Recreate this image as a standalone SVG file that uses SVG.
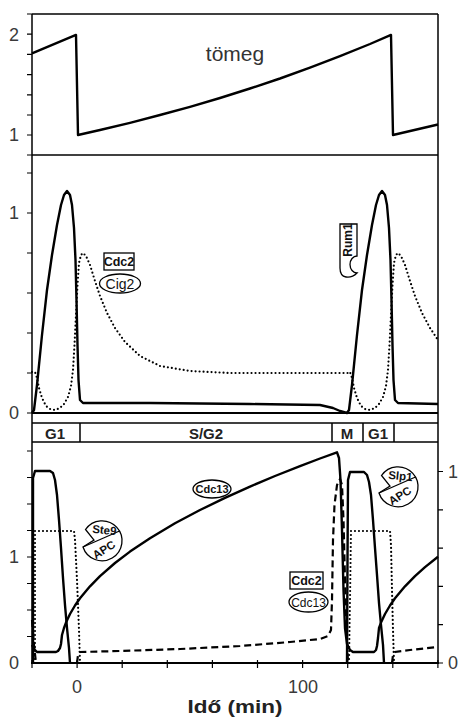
<svg xmlns="http://www.w3.org/2000/svg" width="463" height="720" viewBox="0 0 463 720">
<style>
.frame{fill:none;stroke:#000;stroke-width:1.5}
.axis{fill:none;stroke:#000;stroke-width:2.2}
.tick{stroke:#000;stroke-width:1.2}
.solid{fill:none;stroke:#000;stroke-width:2.4;stroke-linejoin:round}
.dot{fill:none;stroke:#000;stroke-width:2.2;stroke-dasharray:0 4;stroke-linecap:round}
.dash{fill:none;stroke:#000;stroke-width:2.2;stroke-dasharray:7 4}
.num{font-family:"Liberation Sans",Arial,sans-serif;font-size:18px;fill:#3a3a3a;text-anchor:middle}
.phase{font-family:"Liberation Sans",Arial,sans-serif;font-size:15px;font-weight:bold;fill:#222;text-anchor:middle}
.lbl{font-family:"Liberation Sans",Arial,sans-serif;font-weight:bold;fill:#111;text-anchor:middle}
.shape{fill:#fff;stroke:#000;stroke-width:1.3}
</style>

<g id="frame">
<line class="frame" x1="32" y1="14" x2="438" y2="14"/>
<line class="frame" x1="32" y1="14" x2="32" y2="663"/>
<line class="frame" x1="438" y1="14" x2="438" y2="663"/>
<line class="frame" x1="32" y1="155" x2="438" y2="155"/>
<line class="axis" x1="32" y1="413" x2="438" y2="413"/>
<line class="frame" x1="32" y1="423" x2="438" y2="423"/>
<line class="frame" x1="32" y1="442" x2="438" y2="442"/>
<line class="axis" x1="31" y1="663" x2="439" y2="663"/>
</g>

<g id="ticks">
<path class="tick" d="M27,14H32M27,34.2H32M27,54.4H32M27,74.6H32M27,94.8H32M27,115H32M27,135H32M27,155H32
M27,173H32M27,213H32M27,253H32M27,293H32M27,333H32M27,373H32M27,413H32
M27,451H32M27,477.5H32M27,504H32M27,530.5H32M27,557H32M27,583.5H32M27,610H32M27,636.5H32
M438,471.5H443M438,509.8H443M438,548.1H443M438,586.4H443M438,624.7H443M438,663H443
M32,660V668M77.1,660V668M122.2,660V668M167.3,660V668M212.4,660V668M257.5,660V668M302.6,660V668M347.7,660V668M392.8,660V668M437.9,660V668"/>
</g>

<g id="tick-labels">
<text class="num" x="14" y="41">2</text>
<text class="num" x="14" y="141">1</text>
<text class="num" x="14" y="219">1</text>
<text class="num" x="14" y="419">0</text>
<text class="num" x="14" y="563">1</text>
<text class="num" x="14" y="669">0</text>
<text class="num" x="453" y="478">1</text>
<text class="num" x="453" y="669">0</text>
<text class="num" x="77" y="693">0</text>
<text class="num" x="303" y="693">100</text>
<text x="235" y="713" font-family="Liberation Sans, Arial, sans-serif" font-size="18" font-weight="bold" fill="#222" text-anchor="middle" textLength="95" lengthAdjust="spacingAndGlyphs">Idő (min)</text>
</g>

<g id="phase-bar">
<path class="frame" d="M80,423V442M332,423V442M363,423V442M394,423V442"/>
<text class="phase" x="55" y="439">G1</text>
<text class="phase" x="206" y="439">S/G2</text>
<text class="phase" x="347" y="439">M</text>
<text class="phase" x="378" y="439">G1</text>
</g>

<g id="connectors">
<polyline class="solid" points="32,53.4 76,34.9 78,135 100,130 130,122.8 160,115 190,106.8 220,98 250,88.5 280,78.5 310,67.7 340,56.2 370,44 391,34.9 393,135 438,124.5"/>

<polyline class="solid" points="32,413 34,410 37,385 42,335 47,290 52,255 57,225 61,205 64,195 67,191 70,195 72,205 74,228 75.5,260 76.5,300 77.5,345 78.5,380 80,400 83,403 150,403 250,404 320,405 333,408 340,411 347,413 349,410 352,385 357,335 362,290 367,255 372,225 376,205 379,195 382,191 385,195 387,205 389,228 390.5,260 391.5,300 392.5,345 393.5,380 395,400 398,403 438,404"/>
<polyline class="dot" points="32,372 35,372 37,378 39,388 42,398 46,406 50,409 55,410 60,408 64,404 68,397 71,386 73,370 74.5,345 76,315 77.5,285 79,263 81,255 83,253 86,256 90,265 95,281 100,296 107,313 115,328 125,342 140,356 160,366 190,371 230,373 349,373 350,372 352,378 354,388 357,398 361,406 365,409 370,410 375,408 379,404 383,397 386,386 388,370 389.5,345 391,315 392.5,285 394,263 396,255 398,253 401,256 405,265 410,281 415,296 422,313 430,328 438,340"/>

<polyline class="solid" points="32,645 34,649 37,652 56,652 58,651 60,648 61,644 62,635 64,628 66,622.6 70,614 75,605.5 80,598.3 90,586.3 100,576.1 115,563 130,551.6 150,538.2 175,523.3 200,510 225,497.9 250,486.6 275,476 300,466.1 320,458.5 337,452.3 339,458 340.5,480 342,530 343.5,590 345,628 347,644 350,650 353,652 374,652 376,650 377,646 378,638 379,628 381,622.6 385,614 390,605.5 395,598.3 405,586.3 415,576.1 425,567.1 438,556.8"/>
<polyline class="solid" points="33,663 33,478 35,471 50,471 53,473 55,480 57,495 59,520 61,548 63,578 65,605 67,628 69,648 70,663"/>
<polyline class="solid" points="347,663 347.5,560 348,480 350,472 364,472 367,475 369,482 371,495 373,520 375,548 377,575 379,603 381,625 383,645 384,663"/>
<polyline class="dot" points="35,663 35,531 74,531 75,540 77,580 79,630 80,663"/>
<polyline class="dot" points="349,663 350,600 351,531 390,531 391,545 392,590 393,630 394,663"/>
<polyline class="dash" points="32,620 34,645 36,663"/>
<polyline class="dash" points="77,663 78,655 80,652 120,651 180,649 240,646 290,642 320,639 328,636 331,630 332,600 333,540 334.5,505 337,485 340,479 342,485 343.5,520 345,580 346.5,630 348,663"/>
<polyline class="dash" points="392,663 393,655 395,652 410,650 438,647"/>
</g>

<g id="label-tomeg">
<text x="235" y="61" font-family="Liberation Sans, Arial, sans-serif" font-size="21" fill="#333" text-anchor="middle">tömeg</text>
</g>

<g id="node-cdc2-cig2">
<rect class="shape" x="104" y="253" width="30" height="17"/>
<text class="lbl" x="119" y="266" font-size="12.5">Cdc2</text>
<ellipse class="shape" cx="120" cy="283.5" rx="20.5" ry="9.5"/>
<text x="120" y="288.5" font-family="Liberation Sans, Arial, sans-serif" font-size="14" fill="#111" text-anchor="middle">Cig2</text>
</g>

<g id="node-rum1">
<path class="shape" d="M340,224H357V256A7,8.5 0 0 0 357,273Q352,278 346,277Q340,276 340,268Z"/>
<text class="lbl" font-size="12" transform="translate(352,240) rotate(-90)" x="0" y="0">Rum1</text>
</g>

<g id="node-ste9-apc" transform="translate(102,541)">
<path class="shape" d="M-16.5,-11.5A20,20 0 1 1 -19,6L-8,-1Z"/>
<line class="shape" x1="-19" y1="6" x2="17.5" y2="-10"/>
<text class="lbl" font-size="11.5" transform="translate(2,-7) rotate(6)">Ste9</text>
<text class="lbl" font-size="11.5" transform="translate(4,12) rotate(-32)">APC</text>
</g>

<g id="node-slp1-apc" transform="translate(398,487)">
<path class="shape" d="M-16.5,-11.5A20,20 0 1 1 -19,6L-8,-1Z"/>
<line class="shape" x1="-19" y1="6" x2="17.5" y2="-10"/>
<text class="lbl" font-size="11.5" transform="translate(2,-7) rotate(6)">Slp1</text>
<text class="lbl" font-size="11.5" transform="translate(4,12) rotate(-32)">APC</text>
</g>

<g id="node-cdc13">
<ellipse class="shape" cx="212" cy="489" rx="19" ry="9"/>
<text class="lbl" x="212" y="493" font-size="11" font-weight="normal">Cdc13</text>
</g>

<g id="node-cdc2-cdc13">
<rect class="shape" x="290" y="572" width="33" height="17"/>
<text class="lbl" x="306.5" y="585" font-size="12.5">Cdc2</text>
<ellipse class="shape" cx="308.5" cy="602" rx="19.5" ry="10"/>
<text x="308.5" y="606.5" font-family="Liberation Sans, Arial, sans-serif" font-size="12" fill="#111" text-anchor="middle">Cdc13</text>
</g>
</svg>
